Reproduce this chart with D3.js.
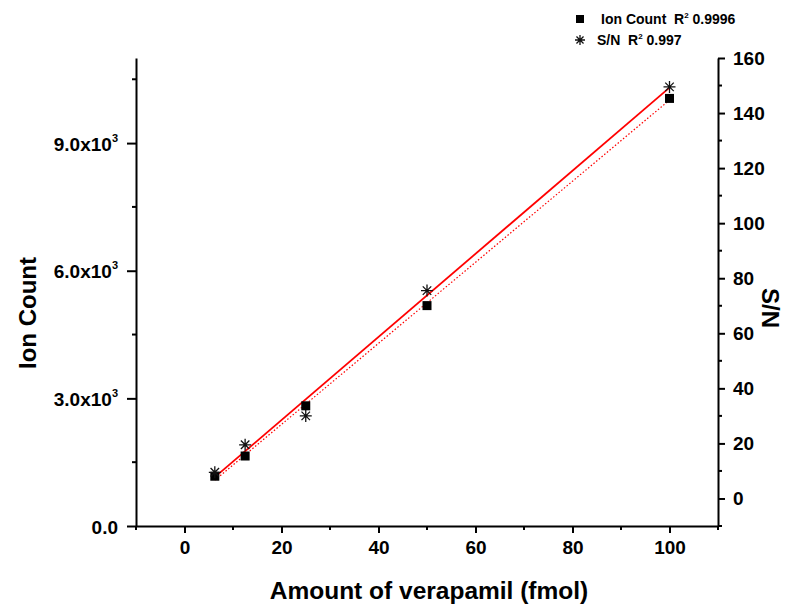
<!DOCTYPE html>
<html>
<head>
<meta charset="utf-8">
<script src="https://cdn.jsdelivr.net/npm/d3@7/dist/d3.min.js"></script>
<style>
  html, body { margin: 0; padding: 0; background: #fff; }
  svg { display: block; font-family: "Liberation Sans", Arial, sans-serif; font-weight: bold; }
</style>
</head>
<body>
<svg id="chart" width="805" height="605"></svg>
<script>
// Calibration data: verapamil amount vs. ion count and signal-to-noise
const amounts = [6.25, 12.5, 25, 50, 100];
const ionCount = [1170, 1645, 2825, 5180, 10050];
const signalToNoise = [9.5, 19.5, 30, 75.5, 149.5];

const xTicks = [0, 20, 40, 60, 80, 100];
const ionTicks = [0, 3000, 6000, 9000];
const ionTickMantissa = ["0.0", "3.0x10", "6.0x10", "9.0x10"];
const ionTickExponent = ["", "3", "3", "3"];
const snTicks = [0, 20, 40, 60, 80, 100, 120, 140, 160];

const legendNames = ["Ion Count", "S/N"];
const legendR2 = ["0.9996", "0.997"];

const svg = d3.select("#chart");

const plotLeft = 136, plotRight = 718, plotTop = 58, plotBottom = 526;

const x = d3.scaleLinear().domain([-10, 110]).range([plotLeft, plotRight]);
const yIon = d3.scaleLinear().domain([0, 11000]).range([plotBottom, plotTop]);
const ySN = d3.scaleLinear().domain([-10, 160]).range([plotBottom, plotTop]);

function styleAxis(g) {
  g.selectAll("path.domain").attr("stroke", "#000").attr("stroke-width", 2);
  g.selectAll(".tick line").attr("stroke", "#000").attr("stroke-width", 2);
  g.selectAll("text").attr("fill", "#000")
    .style("font-family", '"Liberation Sans", Arial, sans-serif')
    .style("font-weight", "bold");
}

// minor tick positions
const xMinor = d3.range(-10, 111, 20);
const ionMinor = [1500, 4500, 7500, 10500];
const snMinor = d3.range(-10, 160, 20);

// bottom axis
const gx = svg.append("g").attr("transform", `translate(0,${plotBottom})`);
gx.call(d3.axisBottom(x).tickValues(xTicks).tickSize(7).tickSizeOuter(0).tickPadding(8).tickFormat(d3.format("d")));
gx.selectAll("text").style("font-size", "19px");
styleAxis(gx);
gx.append("g").selectAll("line").data(xMinor).join("line")
  .attr("x1", d => x(d)).attr("x2", d => x(d)).attr("y1", 0).attr("y2", 4)
  .attr("stroke", "#000").attr("stroke-width", 2);

// left axis (ion count)
const gl = svg.append("g").attr("transform", `translate(${plotLeft},0)`);
gl.call(d3.axisLeft(yIon).tickValues(ionTicks).tickSize(9).tickSizeOuter(0).tickPadding(6).tickFormat(""));
styleAxis(gl);
gl.selectAll(".tick").each(function(d, i) {
  const t = d3.select(this).append("text")
    .attr("x", -18).attr("y", 7)
    .attr("text-anchor", "end")
    .attr("fill", "#000")
    .style("font-size", "19px");
  t.append("tspan").text(ionTickMantissa[i]);
  if (ionTickExponent[i]) {
    t.append("tspan").attr("dy", -9).style("font-size", "11px").text(ionTickExponent[i]);
  }
});
gl.append("g").selectAll("line").data(ionMinor).join("line")
  .attr("x1", -4).attr("x2", 0).attr("y1", d => yIon(d)).attr("y2", d => yIon(d))
  .attr("stroke", "#000").attr("stroke-width", 2);

// right axis (S/N)
const gr = svg.append("g").attr("transform", `translate(${plotRight},0)`);
gr.call(d3.axisRight(ySN).tickValues(snTicks).tickSize(7).tickSizeOuter(0).tickPadding(8).tickFormat(d3.format("d")));
gr.selectAll("text").style("font-size", "19px");
styleAxis(gr);
gr.append("g").selectAll("line").data(snMinor).join("line")
  .attr("x1", 0).attr("x2", 4).attr("y1", d => ySN(d)).attr("y2", d => ySN(d))
  .attr("stroke", "#000").attr("stroke-width", 2);

// axis titles
svg.append("text")
  .attr("x", 429).attr("y", 599)
  .attr("text-anchor", "middle").style("font-size", "24.5px").text("Amount of verapamil (fmol)");
svg.append("text")
  .attr("transform", `translate(36,${(plotTop + plotBottom) / 2 + 21}) rotate(-90)`)
  .attr("text-anchor", "middle").style("font-size", "24px").text("Ion Count");
svg.append("text")
  .attr("transform", `translate(762,308) rotate(90)`)
  .attr("text-anchor", "middle").style("font-size", "24px").text("S/N");

// least-squares fits
function linFit(xs, ys) {
  const mx = d3.mean(xs), my = d3.mean(ys);
  let sxy = 0, sxx = 0;
  xs.forEach((v, i) => { sxy += (v - mx) * (ys[i] - my); sxx += (v - mx) * (v - mx); });
  const slope = sxy / sxx;
  return { slope, intercept: my - slope * mx };
}
const fitIon = linFit(amounts, ionCount);
const fitSN = linFit(amounts, signalToNoise);
const xr = d3.extent(amounts);

svg.append("path")
  .datum(xr)
  .attr("d", d3.line().x(d => x(d)).y(d => yIon(fitIon.intercept + fitIon.slope * d)))
  .attr("stroke", "#ff0000").attr("stroke-width", 1.2).attr("stroke-dasharray", "1.5,2").attr("fill", "none");

svg.append("path")
  .datum(xr)
  .attr("d", d3.line().x(d => x(d)).y(d => ySN(fitSN.intercept + fitSN.slope * d)))
  .attr("stroke", "#ff0000").attr("stroke-width", 1.8).attr("fill", "none");

// markers
function asterisk(cx, cy, r) {
  const a = r * Math.SQRT1_2;
  return `M${cx - r},${cy}L${cx + r},${cy}M${cx},${cy - r}L${cx},${cy + r}` +
         `M${cx - a},${cy - a}L${cx + a},${cy + a}M${cx - a},${cy + a}L${cx + a},${cy - a}`;
}

svg.append("g").selectAll("rect").data(amounts).join("rect")
  .attr("x", (d) => x(d) - 4.5).attr("y", (d, i) => yIon(ionCount[i]) - 4.5)
  .attr("width", 9).attr("height", 9).attr("fill", "#000");

svg.append("g").selectAll("path").data(amounts).join("path")
  .attr("d", (d, i) => asterisk(x(d), ySN(signalToNoise[i]), 6))
  .attr("stroke", "#111").attr("stroke-width", 1.3).attr("fill", "none");

// legend
const lg = svg.append("g");
lg.append("rect").attr("x", 576).attr("y", 15).attr("width", 8).attr("height", 8).attr("fill", "#000");
lg.append("path").attr("d", asterisk(580, 40, 5)).attr("stroke", "#111").attr("stroke-width", 1.3).attr("fill", "none");

const legendRows = [{ tx: 601, ty: 24 }, { tx: 597, ty: 45 }];
legendRows.forEach((p, i) => {
  const t = lg.append("text").attr("x", p.tx).attr("y", p.ty).style("font-size", "14px");
  t.append("tspan").text(legendNames[i] + "\u00a0\u00a0R");
  t.append("tspan").attr("dy", -6).style("font-size", "8px").text("2");
  t.append("tspan").attr("dy", 6).text(" " + legendR2[i]);
});
</script>
</body>
</html>
